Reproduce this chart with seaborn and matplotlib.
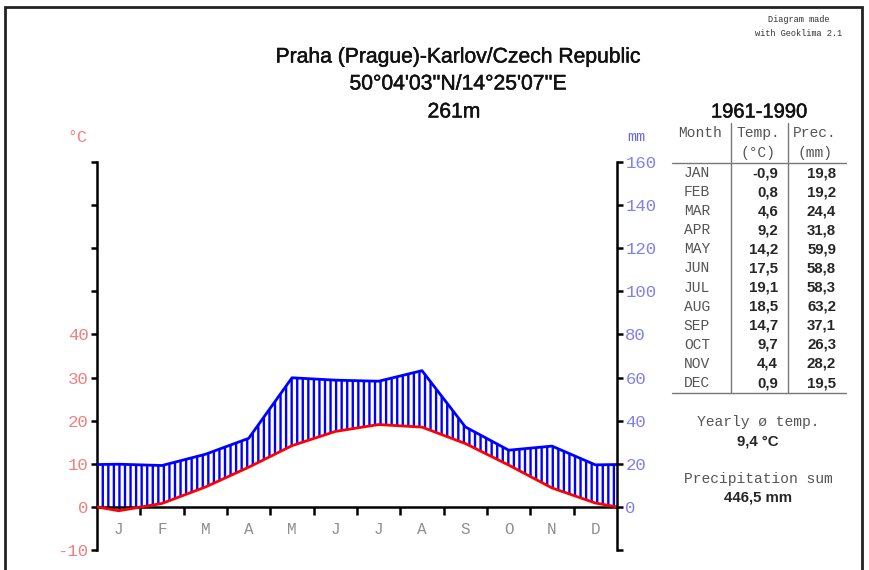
import numpy as np
import matplotlib
matplotlib.use("Agg")
import matplotlib.pyplot as plt
import matplotlib.patheffects as pe
import seaborn as sns
from matplotlib.patches import Rectangle

# Climate data, Praha-Karlov 1961-1990
months = ['JAN', 'FEB', 'MAR', 'APR', 'MAY', 'JUN', 'JUL', 'AUG', 'SEP', 'OCT', 'NOV', 'DEC']
month_letters = ['J', 'F', 'M', 'A', 'M', 'J', 'J', 'A', 'S', 'O', 'N', 'D']
temps = [-0.9, 0.8, 4.6, 9.2, 14.2, 17.5, 19.1, 18.5, 14.7, 9.7, 4.4, 0.9]
precs = [19.8, 19.2, 24.4, 31.8, 59.9, 58.8, 58.3, 63.2, 37.1, 26.3, 28.2, 19.5]
temp_ticks = [-10, 0, 10, 20, 30, 40]
prec_ticks = [0, 20, 40, 60, 80, 100, 120, 140, 160]

sns.set_theme(style="white")
plt.rcParams['font.family'] = ['Liberation Sans', 'DejaVu Sans']
plt.rcParams['hatch.linewidth'] = 1.7

W, H = 869, 570
MONO = ['Liberation Mono', 'DejaVu Sans Mono']
# a touch heavier than regular weight, like the original title font
HEAVY = [pe.withStroke(linewidth=0.35, foreground='#111111')]


def fx(x):
    return x / W


def fy(y):
    return 1 - y / H


def fmt(v):
    return f"{v:.1f}".replace('.', ',')


# month centres plus the Dec/Jan mean at both ends (Walter-Lieth style)
t = np.array(temps)
p = np.array(precs) / 2.0  # 20 mm <-> 10 degC
xs = np.concatenate([[0], np.arange(12) + 0.5, [12]])
t_edge = (t[0] + t[-1]) / 2
p_edge = (p[0] + p[-1]) / 2
t_ext = np.concatenate([[t_edge], t, [t_edge]])
p_ext = np.concatenate([[p_edge], p, [p_edge]])

fig = plt.figure(figsize=(W / 100, H / 100), dpi=100)
ax = fig.add_axes([fx(97), 20 / H, 520 / W, 388 / H])

# humid period hatching
ax.fill_between(xs, t_ext, p_ext, where=p_ext >= t_ext, interpolate=True,
                facecolor='none', edgecolor='#0000ff', hatch='|||', linewidth=0, zorder=1)
sns.lineplot(x=xs, y=p_ext, color='#0000ff', lw=2.0, ax=ax, zorder=3)
sns.lineplot(x=xs, y=t_ext, color='#ff0000', lw=2.0, ax=ax, zorder=4)

ax.set_xlim(0, 12)
ax.set_ylim(-10, 80)
ax.set_xlabel('')
ax.set_ylabel('')

for s in ['top', 'right']:
    ax.spines[s].set_visible(False)
for s in ['left', 'bottom']:
    ax.spines[s].set_color('black')
    ax.spines[s].set_linewidth(1.8)
ax.spines['bottom'].set_position(('data', 0))

ax.set_xticks(range(1, 12))
ax.set_xticklabels([])
ax.set_xticks(np.arange(12) + 0.5, minor=True)
ax.set_xticklabels(month_letters, minor=True, family=MONO, fontsize=11.5, color='#8f8f8f')
ax.tick_params(axis='x', which='major', direction='out', length=6, width=1.8, color='black', bottom=True)
ax.tick_params(axis='x', which='minor', length=0, pad=11, bottom=True)

ax.set_yticks(range(-10, 81, 10))
ax.set_yticklabels([str(v) if v in temp_ticks else '' for v in range(-10, 81, 10)],
                   family=MONO, fontsize=12.5, color='#f08080')
ax.tick_params(axis='y', direction='out', length=4, width=1.8, color='black', pad=2, left=True)

ax2 = ax.twinx()
ax2.set_ylim(-20, 160)
ax2.set_yticks(range(-20, 161, 20))
ax2.set_yticklabels([str(v) if v in prec_ticks else '' for v in range(-20, 161, 20)],
                    family=MONO, fontsize=12.5, color='#8080f0')
ax2.tick_params(axis='y', direction='out', length=4, width=1.8, color='black', pad=2, right=True)
for s in ['top', 'left', 'bottom']:
    ax2.spines[s].set_visible(False)
ax2.spines['right'].set_color('black')
ax2.spines['right'].set_linewidth(1.8)
ax2.grid(False)
ax.grid(False)

# axis unit labels
fig.text(fx(77), fy(137), '°C', family=MONO, fontsize=12, color='#f08080', ha='center', va='center')
fig.text(fx(636), fy(137), 'mm', family=MONO, fontsize=11, color='#6a6ae0', ha='center', va='center')

# titles
for txt, x, y in [('Praha (Prague)-Karlov/Czech Republic', 458, 57),
                  ("50°04'03''N/14°25'07''E", 458, 84),
                  ('261m', 454, 112)]:
    fig.text(fx(x), fy(y), txt, fontsize=15.2, ha='center', va='center', color='#111111',
             path_effects=HEAVY)
fig.text(fx(799), fy(20), 'Diagram made', family=MONO, fontsize=6.2, color='#333333',
         ha='center', va='center')
fig.text(fx(799), fy(34), 'with Geoklima 2.1', family=MONO, fontsize=6.2, color='#333333',
         ha='center', va='center')

# climate table
fig.text(fx(759), fy(112), '1961-1990', fontsize=14.5, ha='center', va='center', color='#111111',
         path_effects=HEAVY)
grey = '#555555'
for txt, x, y in [('Month', 700, 133), ('Temp.', 758, 133), ('Prec.', 815, 133),
                  ('(°C)', 758, 153), ('(mm)', 815, 153)]:
    fig.text(fx(x), fy(y), txt, family=MONO, fontsize=10.5, color=grey, ha='center', va='center')
row_h = 19.1
for i, m in enumerate(months):
    y = 173 + i * row_h
    fig.text(fx(697), fy(y), m, family=MONO, fontsize=10.5, color=grey, ha='center', va='center')
    fig.text(fx(778), fy(y), fmt(temps[i]), fontsize=10.8, fontweight='bold', ha='right', va='center')
    fig.text(fx(836), fy(y), fmt(precs[i]), fontsize=10.8, fontweight='bold', ha='right', va='center')

line_kw = dict(color='#777777', lw=1.0, transform=fig.transFigure)
fig.lines.append(plt.Line2D([fx(672), fx(846)], [fy(163), fy(163)], **line_kw))
fig.lines.append(plt.Line2D([fx(672), fx(846)], [fy(393), fy(393)], **line_kw))
fig.lines.append(plt.Line2D([fx(731), fx(731)], [fy(123), fy(393)], **line_kw))
fig.lines.append(plt.Line2D([fx(788), fx(788)], [fy(123), fy(393)], **line_kw))

fig.text(fx(758), fy(422), 'Yearly ø temp.', family=MONO, fontsize=10.5, color=grey,
         ha='center', va='center')
fig.text(fx(758), fy(442), f"{fmt(np.mean(temps))} °C", fontsize=10.8, fontweight='bold',
         ha='center', va='center')
fig.text(fx(758), fy(479), 'Precipitation sum', family=MONO, fontsize=10.5, color=grey,
         ha='center', va='center')
fig.text(fx(758), fy(498), f"{fmt(np.sum(precs))} mm", fontsize=10.8, fontweight='bold',
         ha='center', va='center')

# picture frame
fig.patches.append(Rectangle((fx(5), -0.05), fx(862) - fx(5), fy(7) + 0.05, transform=fig.transFigure,
                             fill=False, edgecolor='#222222', lw=2))

fig.savefig('out.png', dpi=100)
